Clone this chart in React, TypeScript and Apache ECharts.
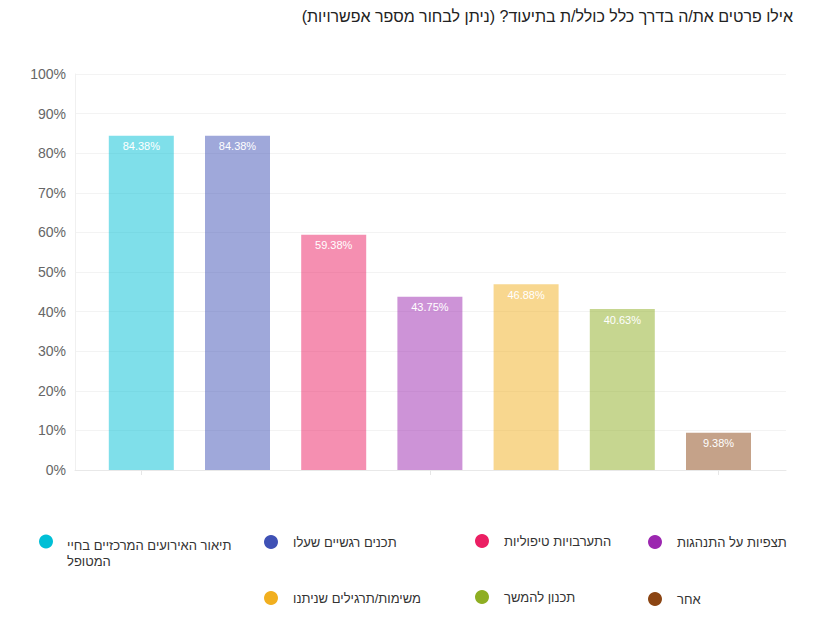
import React, { useEffect, useRef } from "react";
import * as echarts from "echarts";

const title = "אילו פרטים את/ה בדרך כלל כולל/ת בתיעוד? (ניתן לבחור מספר אפשרויות)";

const categories = [
  "תיאור האירועים המרכזיים בחיי המטופל",
  "תכנים רגשיים שעלו",
  "התערבויות טיפוליות",
  "תצפיות על התנהגות",
  "משימות/תרגילים שניתנו",
  "תכנון להמשך",
  "אחר",
];

const values = [84.38, 84.38, 59.38, 43.75, 46.88, 40.63, 9.38];

const colors = ["#00bfd6", "#3f51b5", "#eb1f63", "#9c27b0", "#f1af1f", "#8eae22", "#8b4513"];

const yMin = 0;
const yMax = 100;
const yStep = 10;

// legend layout: [left of icon, icon center y]
const legendLayout = [
  [39, 542],
  [264, 542],
  [475, 541],
  [648, 542],
  [264, 598],
  [475, 597],
  [648, 599],
];

const FONT = "'Liberation Sans', Arial, sans-serif";
const RLM = "\u200F";

function withAlpha(hex: string, a: number) {
  const r = parseInt(hex.slice(1, 3), 16);
  const g = parseInt(hex.slice(3, 5), 16);
  const b = parseInt(hex.slice(5, 7), 16);
  return `rgba(${r},${g},${b},${a})`;
}

export default function App() {
  const ref = useRef<HTMLDivElement>(null);

  useEffect(() => {
    if (!ref.current) return;
    const chart = echarts.init(ref.current, undefined, { renderer: "svg" });

    const legends = categories.map((name, i) => {
      const first = i === 0;
      return {
        show: true,
        selectedMode: false,
        orient: "horizontal",
        left: legendLayout[i][0],
        top: first ? legendLayout[i][1] - 23 : legendLayout[i][1] - 7,
        padding: 0,
        itemWidth: 14,
        itemHeight: 14,
        icon: "circle",
        data: [
          {
            name,
            icon: "circle",
            itemStyle: { color: colors[i], opacity: 1 },
          },
        ],
        formatter: (n: string) =>
          first ? "{s| }\n{a|תיאור האירועים המרכזיים בחיי}\n{a|המטופל}" : n,
        textStyle: {
          fontFamily: FONT,
          fontSize: 13,
          color: "#333",
          padding: first ? [0, 0, 0, 9] : [0, 0, 0, 10],
          rich: {
            s: { fontSize: 13, lineHeight: 24, fontFamily: FONT },
            a: { fontSize: 13, lineHeight: 16, color: "#333", fontFamily: FONT },
          },
        },
      };
    });

    const series = categories.map((name, i) => ({
      name,
      type: "bar",
      xAxisIndex: 1,
      yAxisIndex: 1,
      barWidth: 65,
      barGap: "-100%",
      data: categories.map((_, j) => (j === i ? values[i] : "-")),
      itemStyle: { color: withAlpha(colors[i], 0.5) },
      label: {
        show: true,
        position: "insideTop",
        distance: 5,
        color: "#fff",
        fontFamily: FONT,
        fontSize: 11,
        formatter: (p: any) => `${p.value.toFixed(2)}%`,
      },
      emphasis: { disabled: true },
    }));

    chart.setOption({
      animation: false,
      backgroundColor: "#fff",
      title: {
        text: RLM + title + RLM,
        right: 20,
        top: 8,
        padding: 0,
        textStyle: {
          fontFamily: FONT,
          fontSize: 16,
          fontWeight: "normal",
          color: "#222",
        },
      },
      legend: legends,
      grid: [
        { left: 75, right: 27, top: 74, bottom: 152, containLabel: false },
        { left: 93.2, right: 46.4, top: 74, bottom: 152, containLabel: false },
      ],
      xAxis: [
        {
          gridIndex: 0,
          type: "category",
          data: [""],
          axisLine: { show: true, lineStyle: { color: "#e8e8e8" } },
          axisTick: { show: false },
          axisLabel: { show: false },
          splitLine: { show: false },
        },
        {
          gridIndex: 1,
          type: "category",
          data: categories,
          axisLine: { show: false },
          axisTick: {
            show: true,
            alignWithLabel: true,
            length: 5,
            lineStyle: { color: "#e6e6e6" },
          },
          axisLabel: { show: false },
          splitLine: { show: false },
        },
      ],
      yAxis: [
        {
          gridIndex: 0,
          type: "value",
          min: yMin,
          max: yMax,
          interval: yStep,
          axisLine: { show: true, lineStyle: { color: "#f0f0f0" } },
          axisTick: { show: false },
          axisLabel: {
            formatter: "{value}%",
            fontFamily: FONT,
            fontSize: 14,
            color: "#666",
            margin: 9,
          },
          splitLine: { show: true, lineStyle: { color: "#f3f3f3" } },
        },
        {
          gridIndex: 1,
          type: "value",
          min: yMin,
          max: yMax,
          interval: yStep,
          show: false,
          splitLine: { show: false },
        },
      ],
      series,
    });

    return () => chart.dispose();
  }, []);

  return (
    <div
      ref={ref}
      style={{ position: "fixed", left: 0, top: 0, width: 813, height: 622 }}
    />
  );
}
